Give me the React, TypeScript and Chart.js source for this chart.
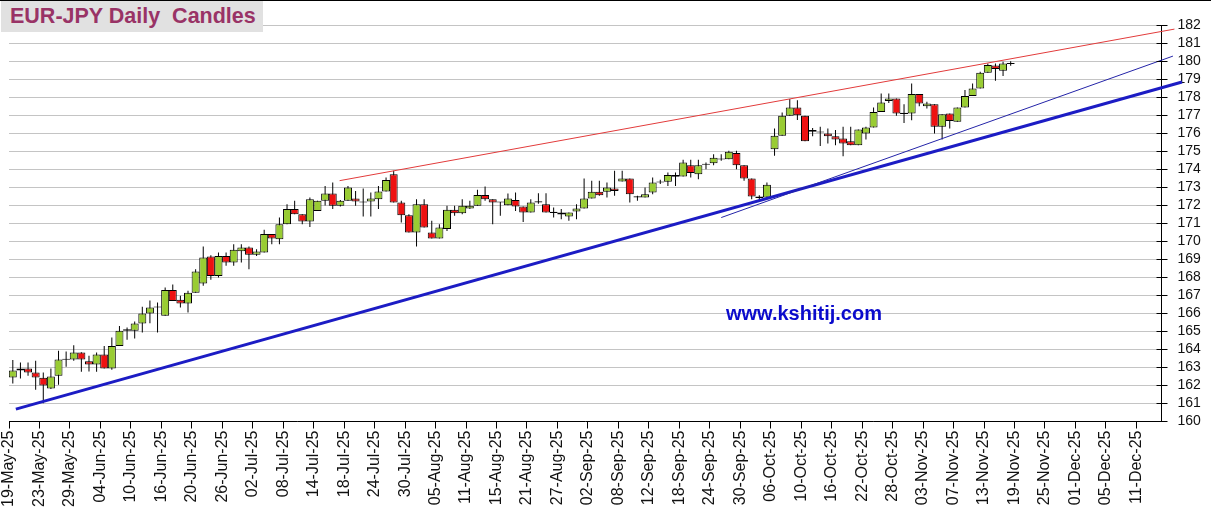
import React, { useEffect, useRef } from 'react';
import { Chart, registerables } from 'chart.js';

Chart.register(...registerables);

// x-axis tick labels (one every 4 trading days, starting at trading day 0)
const tickLabels = [
  '19-May-25', '23-May-25', '29-May-25', '04-Jun-25', '10-Jun-25', '16-Jun-25', '20-Jun-25', '26-Jun-25',
  '02-Jul-25', '08-Jul-25', '14-Jul-25', '18-Jul-25', '24-Jul-25', '30-Jul-25', '05-Aug-25', '11-Aug-25',
  '15-Aug-25', '21-Aug-25', '27-Aug-25', '02-Sep-25', '08-Sep-25', '12-Sep-25', '18-Sep-25', '24-Sep-25',
  '30-Sep-25', '06-Oct-25', '10-Oct-25', '16-Oct-25', '22-Oct-25', '28-Oct-25', '03-Nov-25', '07-Nov-25',
  '13-Nov-25', '19-Nov-25', '25-Nov-25', '01-Dec-25', '05-Dec-25', '11-Dec-25',
];

// Daily candles, one per trading day from 19-May-25
const opens = [
  162.44, 162.83, 162.94, 162.72, 162.43, 161.83, 162.54, 163.44, 163.44, 163.83,
  163.35, 163.17, 163.72, 162.94, 164.20, 165.13, 165.04, 165.44, 166.00, 166.35,
  165.87, 167.31, 166.76, 166.56, 167.15, 167.67, 169.17, 168.09, 169.20, 168.83,
  169.46, 169.67, 169.26, 169.39, 170.41, 170.13, 170.96, 171.80, 171.52, 171.11,
  171.70, 172.26, 172.67, 171.98, 172.26, 172.39, 172.22, 172.22, 172.35, 172.78,
  173.74, 172.17, 171.46, 170.50, 172.07, 170.50, 170.17, 170.69, 171.76, 171.57,
  171.83, 171.98, 172.59, 172.35, 172.20, 172.02, 172.31, 171.94, 171.61, 172.20,
  172.07, 171.63, 171.61, 171.39, 171.67, 171.83, 172.39, 172.76, 172.76, 172.94,
  173.33, 173.50, 172.46, 172.44, 172.72, 173.30, 173.32, 173.70, 173.61, 174.24,
  173.74, 174.28, 174.35, 174.57, 174.57, 174.91, 174.24, 173.50, 172.50, 172.44,
  175.13, 175.87, 176.98, 177.44, 176.98, 176.20, 176.10, 176.00, 175.85, 175.72,
  175.57, 175.35, 176.00, 176.33, 177.19, 177.81, 177.94, 177.13, 177.11, 178.19,
  177.52, 177.63, 176.37, 177.11, 176.65, 177.44, 178.09, 178.50, 179.37, 179.78,
  179.48, 179.90,
];
const highs = [
  163.41, 163.28, 163.28, 163.37, 162.72, 162.94, 163.93, 163.89, 164.24, 163.85,
  163.65, 163.83, 164.20, 164.67, 165.31, 165.22, 165.56, 166.37, 166.72, 166.61,
  167.44, 167.61, 166.98, 167.26, 168.46, 169.72, 169.24, 169.39, 169.39, 169.85,
  169.85, 169.72, 169.57, 170.65, 170.41, 171.33, 172.07, 172.26, 171.52, 172.44,
  172.26, 173.09, 173.28, 172.30, 173.09, 172.81, 172.94, 172.72, 173.09, 173.56,
  173.93, 172.26, 171.52, 172.35, 172.35, 171.15, 170.96, 171.98, 171.98, 172.35,
  172.26, 172.87, 173.06, 172.35, 172.20, 172.67, 172.72, 171.94, 172.35, 172.68,
  172.68, 171.89, 171.80, 171.61, 172.07, 173.50, 173.37, 173.37, 173.28, 173.93,
  173.93, 173.50, 172.54, 173.00, 173.56, 173.43, 173.83, 173.83, 174.54, 174.54,
  174.54, 174.39, 174.85, 174.85, 175.04, 175.04, 174.24, 173.50, 172.57, 173.28,
  176.28, 177.17, 177.91, 177.85, 176.98, 176.30, 176.37, 176.28, 176.19, 176.37,
  176.37, 176.22, 176.37, 177.44, 178.22, 178.22, 177.94, 177.63, 178.78, 178.19,
  177.76, 177.63, 177.07, 177.11, 177.44, 178.41, 178.78, 179.43, 179.89, 179.89,
  179.98, 180.02,
];
const lows = [
  162.11, 162.39, 162.54, 161.76, 161.02, 161.80, 162.04, 163.04, 163.37, 162.76,
  162.78, 162.76, 162.94, 162.87, 164.20, 164.54, 164.61, 164.94, 165.46, 164.94,
  165.87, 166.70, 166.33, 166.06, 167.15, 167.54, 167.87, 168.00, 168.65, 168.65,
  168.83, 168.46, 169.20, 169.39, 169.85, 169.85, 170.96, 171.52, 170.96, 170.81,
  171.70, 172.00, 171.80, 171.95, 172.26, 171.98, 171.39, 171.39, 171.80, 172.78,
  172.17, 171.06, 170.50, 169.72, 170.78, 170.17, 170.17, 170.59, 171.43, 171.52,
  171.80, 171.98, 172.26, 170.96, 171.43, 172.02, 171.70, 171.09, 171.61, 172.10,
  171.61, 171.33, 171.24, 171.15, 171.24, 171.83, 172.39, 172.54, 172.44, 172.54,
  173.33, 172.17, 172.26, 172.44, 172.63, 173.20, 173.09, 173.09, 173.61, 173.56,
  173.46, 174.02, 174.24, 174.48, 174.57, 174.02, 173.37, 172.35, 172.26, 172.44,
  174.76, 175.87, 176.98, 176.75, 175.57, 175.85, 175.30, 175.44, 175.35, 174.74,
  175.35, 175.35, 175.67, 176.33, 177.19, 177.70, 176.98, 176.59, 176.74, 177.52,
  177.39, 176.00, 175.67, 176.28, 176.65, 177.44, 178.09, 178.50, 179.37, 178.93,
  179.19, 179.76,
];
const closes = [
  162.83, 162.94, 162.72, 162.44, 162.00, 162.50, 163.44, 163.48, 163.83, 163.44,
  163.17, 163.72, 162.94, 164.20, 165.04, 165.04, 165.44, 166.00, 166.33, 166.37,
  167.31, 166.70, 166.56, 167.15, 168.33, 169.11, 168.09, 169.20, 168.83, 169.54,
  169.67, 169.26, 169.44, 170.41, 170.17, 170.96, 171.80, 171.52, 171.11, 172.35,
  172.26, 172.67, 171.98, 172.26, 173.00, 172.22, 172.17, 172.39, 172.78, 173.41,
  172.17, 171.46, 170.50, 172.07, 170.78, 170.17, 170.78, 171.76, 171.57, 171.98,
  171.98, 172.59, 172.35, 172.17, 172.19, 172.39, 171.94, 171.61, 172.17, 172.20,
  171.61, 171.61, 171.50, 171.61, 171.83, 172.39, 172.76, 172.57, 173.00, 172.81,
  173.50, 172.63, 172.50, 172.63, 173.28, 173.32, 173.70, 173.60, 174.39, 173.80,
  174.24, 174.30, 174.65, 174.59, 174.98, 174.24, 173.50, 172.50, 172.41, 173.15,
  175.87, 176.98, 177.45, 177.02, 175.57, 176.10, 176.07, 175.85, 175.67, 175.44,
  175.35, 176.22, 176.33, 177.19, 177.72, 177.94, 177.11, 177.11, 178.19, 177.67,
  177.67, 176.37, 177.07, 176.69, 177.44, 178.09, 178.50, 179.37, 179.80, 179.59,
  179.89, 179.88,
];

// Trend lines: [start, end] as (trading-day index, price)
const redTrend = [{ x: 43.4, y: 173.38 }, { x: 153.0, y: 181.8 }];
const thinBlueTrend = [{ x: 93.5, y: 171.33 }, { x: 152.8, y: 180.3 }];
const thickBlueTrend = [{ x: 0.9, y: 160.69 }, { x: 154.0, y: 178.86 }];

const yMin = 160;
const yMax = 182;
const xMax = 151.3;

const FONT = 'Arial, "Liberation Sans", sans-serif';

const innerTicks = {
  id: 'innerTicks',
  afterDraw(chart: any) {
    const ys = chart.scales.y;
    const ctx = chart.ctx;
    const right = chart.chartArea.right;
    ctx.save();
    ctx.strokeStyle = '#000';
    ctx.lineWidth = 1;
    ys.ticks.forEach((t: any) => {
      const py = Math.round(ys.getPixelForValue(t.value) - 0.5) + 0.5;
      ctx.beginPath();
      ctx.moveTo(right - 5, py);
      ctx.lineTo(right, py);
      ctx.stroke();
    });
    ctx.restore();
  },
};

export default function App() {
  const ref = useRef<HTMLCanvasElement | null>(null);

  useEffect(() => {
    if (!ref.current) return;
    const bodies = opens.map((o, i) => {
      const c = closes[i];
      let lo = Math.min(o, c);
      let hi = Math.max(o, c);
      if (hi - lo < 0.06) {
        const m = (lo + hi) / 2;
        lo = m - 0.03;
        hi = m + 0.03;
      }
      return { x: i + 0.5, y: [lo, hi] };
    });
    const bodyColors = opens.map((o, i) =>
      Math.abs(closes[i] - o) < 0.04 ? '#000000' : closes[i] > o ? '#99cc33' : '#ee1111'
    );
    const wicks = opens.map((_, i) => ({ x: i + 0.5, y: [lows[i], highs[i]] }));

    const chart = new Chart(ref.current, {
      type: 'bar',
      data: {
        datasets: [
          {
            type: 'line',
            data: redTrend,
            borderColor: '#e23b3b',
            borderWidth: 1,
            pointRadius: 0,
            clip: false,
            order: 0,
          } as any,
          {
            type: 'line',
            data: thinBlueTrend,
            borderColor: '#2424a8',
            borderWidth: 1,
            pointRadius: 0,
            clip: false,
            order: 0,
          } as any,
          {
            type: 'line',
            data: thickBlueTrend,
            borderColor: '#1c1cc4',
            borderWidth: 3,
            pointRadius: 0,
            clip: false,
            order: 0,
          } as any,
          {
            type: 'bar',
            data: bodies,
            backgroundColor: bodyColors,
            borderColor: '#000000',
            borderWidth: 1,
            borderSkipped: false,
            barPercentage: 1.05,
            categoryPercentage: 1,
            maxBarThickness: 8,
            grouped: false,
            inflateAmount: 0,
            order: 1,
          } as any,
          {
            type: 'bar',
            data: wicks,
            backgroundColor: '#000000',
            borderWidth: 0,
            barPercentage: 1,
            categoryPercentage: 1,
            maxBarThickness: 1,
            grouped: false,
            inflateAmount: 0,
            order: 2,
          } as any,
        ],
      },
      options: {
        animation: false,
        responsive: false,
        maintainAspectRatio: false,
        layout: { padding: { left: 9, top: 25.5, right: 0, bottom: 0 } },
        plugins: {
          legend: { display: false },
          tooltip: { enabled: false },
          title: { display: false },
        },
        scales: {
          x: {
            type: 'linear',
            bounds: 'data',
            min: 0,
            max: xMax,
            offset: false,
            grid: {
              display: true,
              drawOnChartArea: false,
              drawTicks: true,
              tickLength: 7,
              tickColor: '#000',
              offset: false,
            },
            border: { display: true, color: '#000', width: 1 },
            ticks: {
              stepSize: 4,
              includeBounds: false,
              autoSkip: false,
              maxRotation: 90,
              minRotation: 90,
              padding: 2,
              color: '#111',
              font: { family: FONT, size: 16 },
              callback: (v: any) => tickLabels[Math.round(Number(v) / 4)] ?? '',
            },
            afterFit: (s: any) => {
              s.height = 102.5;
            },
          },
          y: {
            type: 'linear',
            position: 'right',
            min: yMin,
            max: yMax,
            grid: { color: '#c4c4c4', tickColor: '#000', tickLength: 6, lineWidth: 1 },
            border: { display: true, color: '#000', width: 1 },
            ticks: {
              stepSize: 1,
              autoSkip: false,
              padding: 10,
              color: '#111',
              font: { family: FONT, size: 14 },
              callback: (v: any) => String(v),
            },
            afterFit: (s: any) => {
              s.width = 49.5;
            },
          },
        },
      } as any,
      plugins: [innerTicks],
    });
    return () => chart.destroy();
  }, []);

  return (
    <div style={{ position: 'fixed', left: 0, top: 0, width: 1211, height: 524, background: '#fff', overflow: 'hidden' }}>
      <canvas ref={ref} width={1211} height={524} style={{ position: 'absolute', left: 0, top: 0, width: 1211, height: 524 }} />
      <div style={{ position: 'absolute', left: 0, top: 0, width: 1211, height: 1, background: '#000' }} />
      <div
        style={{
          position: 'absolute',
          left: 1,
          top: 1,
          width: 262,
          height: 31,
          background: '#e1e1e1',
          color: '#993366',
          fontFamily: FONT,
          fontWeight: 'bold',
          fontSize: 21.5,
          lineHeight: '31px',
          paddingLeft: 9,
          boxSizing: 'border-box',
          whiteSpace: 'pre',
        }}
      >
        EUR-JPY Daily  Candles
      </div>
      <div
        style={{
          position: 'absolute',
          left: 726,
          top: 303,
          color: '#0a0acc',
          fontFamily: FONT,
          fontWeight: 'bold',
          fontSize: 20,
          lineHeight: '20px',
          whiteSpace: 'pre',
        }}
      >
        www.kshitij.com
      </div>
    </div>
  );
}
